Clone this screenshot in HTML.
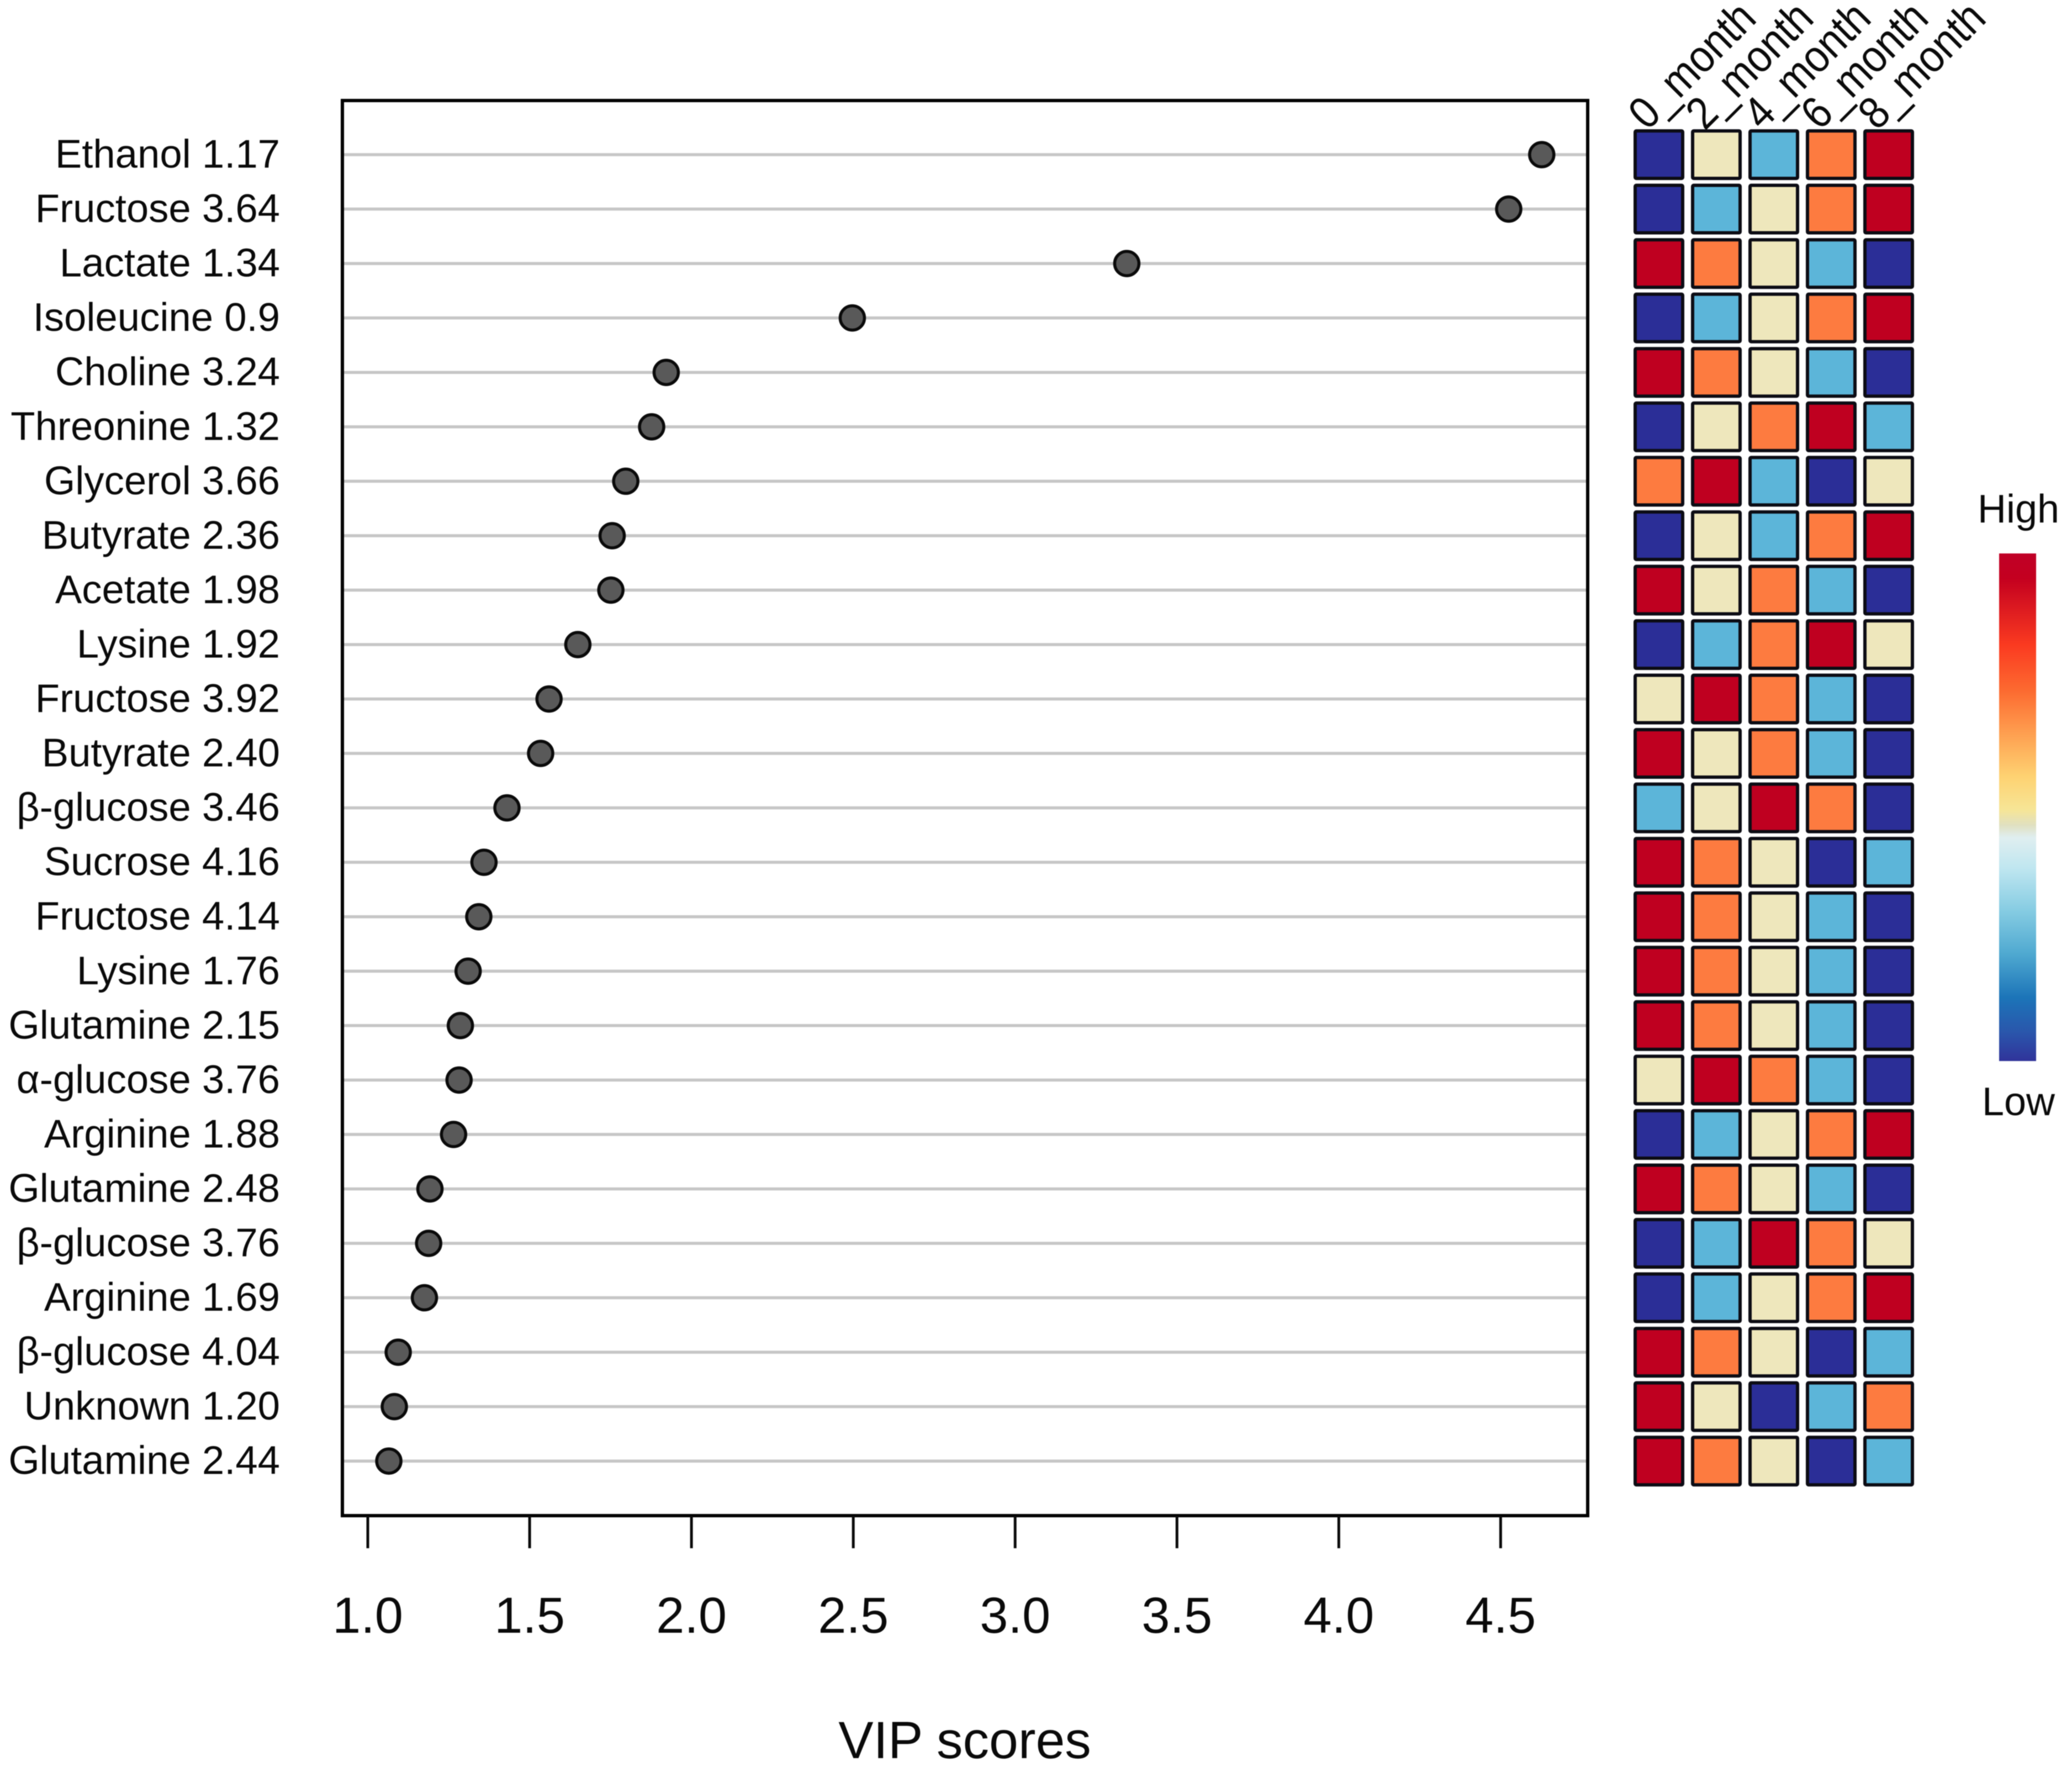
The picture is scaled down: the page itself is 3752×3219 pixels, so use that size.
<!DOCTYPE html>
<html lang="en">
<head>
<meta charset="utf-8">
<title>VIP scores chart</title>
<style>
  html, body { margin: 0; padding: 0; background: #fff; }
  body { width: 3752px; height: 3219px; overflow: hidden; }
  svg { display: block; filter: blur(0.9px); }
  text { font-family: "Liberation Sans", "DejaVu Sans", sans-serif; fill: #0a0a0a; }
</style>
</head>
<body>
<svg id="chart" xmlns="http://www.w3.org/2000/svg" width="3752" height="3219" viewBox="0 0 3752 3219">
  <defs>
    <linearGradient id="colorbar-gradient" x1="0" y1="0" x2="0" y2="1">
      <stop offset="0" stop-color="#bf0026"/>
      <stop offset="0.05" stop-color="#c4001f"/>
      <stop offset="0.18" stop-color="#fa3a20"/>
      <stop offset="0.27" stop-color="#fc6a30"/>
      <stop offset="0.355" stop-color="#fe9f50"/>
      <stop offset="0.44" stop-color="#fed272"/>
      <stop offset="0.505" stop-color="#f6e596"/>
      <stop offset="0.535" stop-color="#e0e0c0"/>
      <stop offset="0.56" stop-color="#dfeef0"/>
      <stop offset="0.62" stop-color="#bfe6f0"/>
      <stop offset="0.70" stop-color="#88cde3"/>
      <stop offset="0.79" stop-color="#4ea8d0"/>
      <stop offset="0.875" stop-color="#1c74b8"/>
      <stop offset="0.945" stop-color="#2a55ab"/>
      <stop offset="1" stop-color="#30339a"/>
    </linearGradient>
  </defs>
  <rect x="0" y="0" width="3752" height="3219" fill="#ffffff"/>
  <g id="gridlines"></g>
  <g id="points"></g>
  <rect x="620" y="182" width="2255" height="2562" fill="none" stroke="#000" stroke-width="6"/>
  <g id="x-axis"></g>
  <g id="y-labels"></g>
  <text x="1747" y="3183" font-size="95" text-anchor="middle">VIP scores</text>
  <g id="heatmap"></g>
  <g id="month-labels"></g>
  <g>
    <text x="3655" y="946" font-size="72" text-anchor="middle">High</text>
    <rect x="3620" y="1002" width="67" height="919" fill="url(#colorbar-gradient)"/>
    <text x="3655" y="2019" font-size="72" text-anchor="middle">Low</text>
  </g>
</svg>
<script>
const metaboliteLabels = [
  "Ethanol 1.17", "Fructose 3.64", "Lactate 1.34", "Isoleucine 0.9", "Choline 3.24",
  "Threonine 1.32", "Glycerol 3.66", "Butyrate 2.36", "Acetate 1.98", "Lysine 1.92",
  "Fructose 3.92", "Butyrate 2.40", "β-glucose 3.46", "Sucrose 4.16", "Fructose 4.14",
  "Lysine 1.76", "Glutamine 2.15", "α-glucose 3.76", "Arginine 1.88", "Glutamine 2.48",
  "β-glucose 3.76", "Arginine 1.69", "β-glucose 4.04", "Unknown 1.20", "Glutamine 2.44"
];
const vipScores = [
  4.627, 4.525, 3.345, 2.497, 1.922,
  1.877, 1.797, 1.755, 1.751, 1.649,
  1.56, 1.534, 1.43, 1.359, 1.343,
  1.31, 1.286, 1.282, 1.265, 1.192,
  1.188, 1.175, 1.094, 1.082, 1.065
];
const xTickValues = [1.0, 1.5, 2.0, 2.5, 3.0, 3.5, 4.0, 4.5];
const xTickLabels = ["1.0", "1.5", "2.0", "2.5", "3.0", "3.5", "4.0", "4.5"];
const monthLabels = ["0_month", "2_month", "4_month", "6_month", "8_month"];
const heatmapLevels = [
  [1, 3, 2, 4, 5],
  [1, 2, 3, 4, 5],
  [5, 4, 3, 2, 1],
  [1, 2, 3, 4, 5],
  [5, 4, 3, 2, 1],
  [1, 3, 4, 5, 2],
  [4, 5, 2, 1, 3],
  [1, 3, 2, 4, 5],
  [5, 3, 4, 2, 1],
  [1, 2, 4, 5, 3],
  [3, 5, 4, 2, 1],
  [5, 3, 4, 2, 1],
  [2, 3, 5, 4, 1],
  [5, 4, 3, 1, 2],
  [5, 4, 3, 2, 1],
  [5, 4, 3, 2, 1],
  [5, 4, 3, 2, 1],
  [3, 5, 4, 2, 1],
  [1, 2, 3, 4, 5],
  [5, 4, 3, 2, 1],
  [1, 2, 5, 4, 3],
  [1, 2, 3, 4, 5],
  [5, 4, 3, 1, 2],
  [5, 3, 1, 2, 4],
  [5, 4, 3, 1, 2]
];
const levelColors = ["#2b2e97", "#5cb5d9", "#eee7bc", "#fd7b40", "#bf0020"];

const NS = "http://www.w3.org/2000/svg";
function xScale(v) { return 666 + (v - 1) * 586.1; }
function rowY(i) { return 280 + i * 98.55; }
function colX(j) { return 3004 + j * 104; }
function levelColor(level) { return levelColors[level - 1]; }
function make(tag, attrs, parent) {
  const el = document.createElementNS(NS, tag);
  for (const k in attrs) el.setAttribute(k, attrs[k]);
  parent.appendChild(el);
  return el;
}

const gridGroup = document.getElementById("gridlines");
const pointGroup = document.getElementById("points");
const labelGroup = document.getElementById("y-labels");
const axisGroup = document.getElementById("x-axis");
const heatGroup = document.getElementById("heatmap");
const monthGroup = document.getElementById("month-labels");

metaboliteLabels.forEach(function (label, i) {
  const y = rowY(i);

  const line = make("line", { x1: 620, x2: 2875, y1: y, y2: y, stroke: "#c6c6c6", "stroke-width": 5.5 }, gridGroup);
  
  

  const point = make("circle", { cx: xScale(vipScores[i]), cy: y, r: 22, fill: "#595959", stroke: "#0a0a0a", "stroke-width": 5.5 }, pointGroup);
  
  

  const text = make("text", { x: 507, y: y + 23.5, "font-size": 72.5, "text-anchor": "end" }, labelGroup);
  text.textContent = label;
  
  

  heatmapLevels[i].forEach(function (level, j) {
    const cell = make("rect", { x: colX(j) - 43, y: y - 43, width: 86, height: 86, rx: 2, fill: levelColor(level), stroke: "#0c0c14", "stroke-width": 6 }, heatGroup);
    
    
  });
});

xTickValues.forEach(function (v, i) {
  const tx = xScale(v);

  const tick = make("line", { x1: tx, x2: tx, y1: 2744, y2: 2803, stroke: "#0a0a0a", "stroke-width": 5 }, axisGroup);
  
  

  const tl = make("text", { x: tx, y: 2956, "font-size": 92, "text-anchor": "middle" }, axisGroup);
  tl.textContent = xTickLabels[i];
  
  
});

monthLabels.forEach(function (m, j) {
  const sx = colX(j) - 21;
  const sy = 238;
  const ml = make("text", { x: 0, y: 0, "font-size": 82, transform: "translate(" + sx + " " + sy + ") rotate(-45) scale(0.89 1)" }, monthGroup);
  ml.textContent = m;
  
  
});
</script>
</body>
</html>
